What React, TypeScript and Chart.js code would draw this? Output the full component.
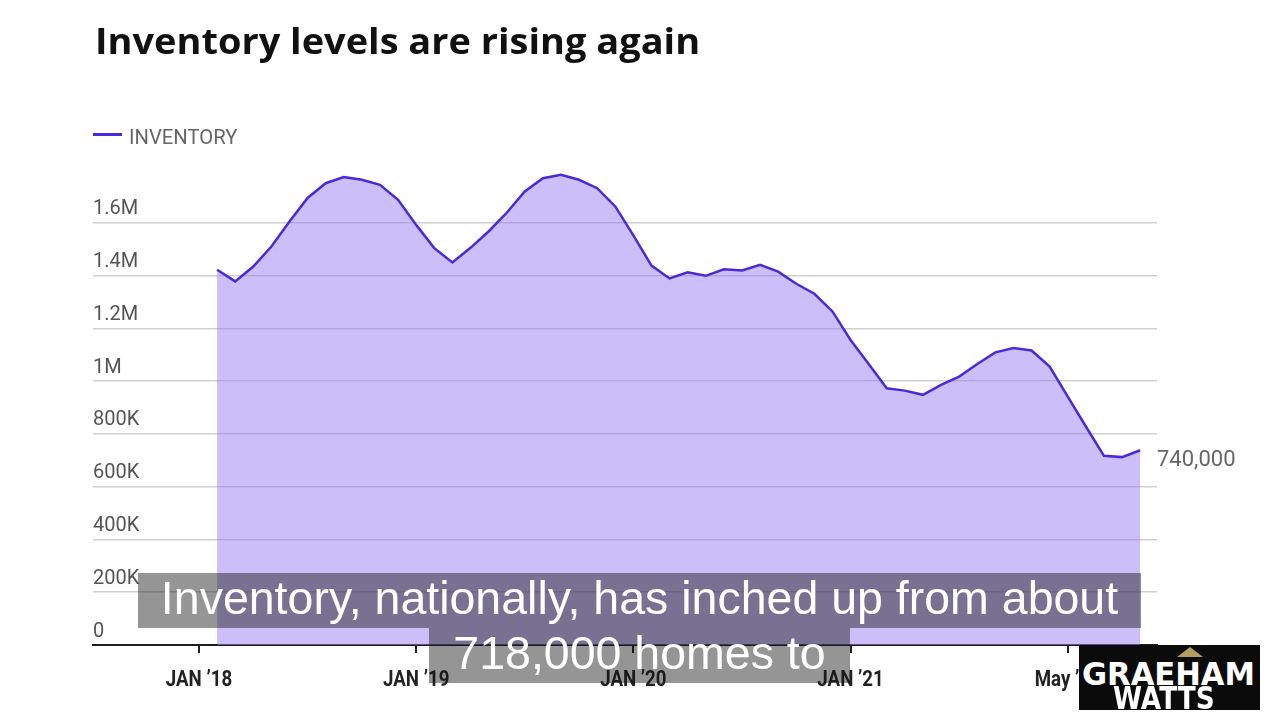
import React, { useEffect, useLayoutEffect, useRef } from "react";
import { Chart, registerables } from "chart.js";

Chart.register(...registerables);

// ---------- text ----------
const TITLE = "Inventory levels are rising again";
const SERIES_NAME = "INVENTORY";
const END_LABEL = "740,000";
const CAPTION_LINE_1 = "Inventory, nationally, has inched up from about";
const CAPTION_LINE_2 = "718,000 homes to";
const LOGO_LINE_1 = "GRAEHAM";
const LOGO_LINE_2 = "WATTS";

// ---------- data ----------
const months = [
  "2018-02", "2018-03", "2018-04", "2018-05", "2018-06", "2018-07", "2018-08", "2018-09", "2018-10", "2018-11", "2018-12",
  "2019-01", "2019-02", "2019-03", "2019-04", "2019-05", "2019-06", "2019-07", "2019-08", "2019-09", "2019-10", "2019-11", "2019-12",
  "2020-01", "2020-02", "2020-03", "2020-04", "2020-05", "2020-06", "2020-07", "2020-08", "2020-09", "2020-10", "2020-11", "2020-12",
  "2021-01", "2021-02", "2021-03", "2021-04", "2021-05", "2021-06", "2021-07", "2021-08", "2021-09", "2021-10", "2021-11", "2021-12",
  "2022-01", "2022-02", "2022-03", "2022-04", "2022-05",
];

const inventory = [
  1422000, 1378000, 1434000, 1510000, 1605000, 1694000, 1750000, 1773000, 1763000, 1744000, 1687000,
  1592000, 1504000, 1450000, 1505000, 1567000, 1638000, 1719000, 1769000, 1782000, 1763000, 1731000, 1662000,
  1552000, 1438000, 1389000, 1412000, 1399000, 1424000, 1419000, 1441000, 1415000, 1369000, 1331000, 1264000,
  1156000, 1065000, 973000, 964000, 948000, 986000, 1017000, 1065000, 1109000, 1125000, 1116000, 1055000,
  941000, 828000, 717000, 712000, 738000,
];

const xTickMonths = ["2018-01", "2019-01", "2020-01", "2021-01", "2022-01"];
const xTickLabels = ["JAN \u201918", "JAN \u201919", "JAN \u201920", "JAN \u201921", "May \u201922"];

const yTickValues = [0, 200000, 400000, 600000, 800000, 1000000, 1200000, 1400000, 1600000];
const yTickLabels = ["0", "200K", "400K", "600K", "800K", "1M", "1.2M", "1.4M", "1.6M"];

const monthIndex = (s: string) => {
  const [y, m] = s.split("-").map(Number);
  return (y - 2018) * 12 + (m - 1);
};

const LINE_COLOR = "#4c29d8";
const FILL_COLOR = "rgba(153,125,241,0.5)";

function FitText({ text, width, style }: { text: string; width: number; style: React.CSSProperties }) {
  const ref = useRef<HTMLSpanElement>(null);
  useLayoutEffect(() => {
    const fit = () => {
      const el = ref.current;
      if (!el) return;
      const w = el.offsetWidth;
      if (w > 0) el.style.transform = `scaleX(${width / w})`;
    };
    fit();
    const fonts = (document as any).fonts;
    if (fonts && fonts.ready) fonts.ready.then(fit);
  }, [text, width]);
  return (
    <span
      ref={ref}
      style={{
        position: "absolute",
        whiteSpace: "nowrap",
        display: "inline-block",
        transformOrigin: "left center",
        lineHeight: 1,
        ...style,
      }}
    >
      {text}
    </span>
  );
}

// value label at the end of the line
const endLabelPlugin = {
  id: "endLabel",
  afterDatasetsDraw(chart: any) {
    const meta = chart.getDatasetMeta(0);
    const pt = meta.data[meta.data.length - 1];
    if (!pt) return;
    const ctx = chart.ctx;
    ctx.save();
    ctx.font = "22px Roboto";
    ctx.fillStyle = "#666";
    ctx.textAlign = "left";
    ctx.textBaseline = "middle";
    ctx.fillText(END_LABEL, chart.chartArea.right, pt.y + 10);
    ctx.restore();
  },
};

// condensed bold x tick labels, placed at the x scale's tick pixels
const condensedXLabels = {
  id: "condensedXLabels",
  afterDraw(chart: any) {
    const xs = chart.scales.x;
    const ctx = chart.ctx;
    ctx.save();
    ctx.font = "bold 22px Roboto";
    ctx.fillStyle = "#222";
    ctx.textAlign = "center";
    ctx.textBaseline = "middle";
    xs.ticks.forEach((t: any, i: number) => {
      const x = xs.getPixelForValue(t.value);
      ctx.save();
      ctx.translate(x, xs.top + 35);
      ctx.scale(0.85, 1);
      ctx.fillText(xTickLabels[i] ?? "", 0, 0);
      ctx.restore();
    });
    ctx.restore();
  },
};

export default function App() {
  const canvasRef = useRef<HTMLCanvasElement>(null);

  useEffect(() => {
    if (!canvasRef.current) return;
    const chart = new Chart(canvasRef.current, {
      type: "line",
      data: {
        datasets: [
          {
            label: SERIES_NAME,
            data: months.map((m, i) => ({ x: monthIndex(m), y: inventory[i] })),
            borderColor: LINE_COLOR,
            backgroundColor: FILL_COLOR,
            borderWidth: 2.5,
            pointRadius: 0,
            tension: 0,
            fill: "origin",
          },
        ],
      },
      options: {
        animation: false,
        responsive: false,
        maintainAspectRatio: false,
        layout: { padding: { left: 93, right: 123, top: 170, bottom: 13 } },
        plugins: {
          legend: { display: false },
          title: { display: false },
          tooltip: { enabled: false },
        },
        scales: {
          x: {
            type: "linear",
            min: -5.856,
            max: 52.93,
            afterBuildTicks: (axis: any) => {
              axis.ticks = xTickMonths.map((m) => ({ value: monthIndex(m) }));
            },
            grid: {
              display: true,
              drawOnChartArea: false,
              drawTicks: true,
              tickLength: 8,
              color: "#222",
              tickColor: "#222",
              lineWidth: 2,
            },
            border: { display: true, color: "#1e1e1e", width: 2 },
            ticks: {
              autoSkip: false,
              maxRotation: 0,
              padding: 13.8,
              color: "rgba(0,0,0,0)",
              font: { family: "Roboto", size: 22, weight: "bold", lineHeight: 1.2 },
              callback: (value: any, index: number) => xTickLabels[index] ?? "",
            },
          },
          y: {
            type: "linear",
            min: 0,
            max: 1800000,
            afterBuildTicks: (axis: any) => {
              axis.ticks = yTickValues.map((v) => ({ value: v }));
            },
            grid: {
              drawTicks: false,
              lineWidth: 1.5,
              color: (ctx: any) => (ctx.tick && ctx.tick.value === 0 ? "rgba(0,0,0,0)" : "#cfcfcf"),
            },
            border: { display: false },
            ticks: {
              mirror: true,
              padding: 0,
              labelOffset: -13.5,
              color: "#555",
              font: { family: "Roboto", size: 20 },
              callback: (value: any) => {
                const i = yTickValues.indexOf(Number(value));
                return i >= 0 ? yTickLabels[i] : "";
              },
            },
          },
        },
      },
      plugins: [endLabelPlugin, condensedXLabels],
    } as any);
    return () => chart.destroy();
  }, []);

  return (
    <div
      style={{
        position: "absolute",
        left: 0,
        top: 0,
        width: 1280,
        height: 720,
        background: "#fff",
        overflow: "hidden",
      }}
    >
      <canvas ref={canvasRef} width={1280} height={720} style={{ position: "absolute", left: 0, top: 0, display: "block" }} />

      <FitText
        text={TITLE}
        width={605}
        style={{ left: 95, top: 16, font: '700 36px "Open Sans"', color: "#111" }}
      />

      <div style={{ position: "absolute", left: 93, top: 132.5, width: 29, height: 3, background: LINE_COLOR }} />
      <FitText
        text={SERIES_NAME}
        width={108}
        style={{ left: 129, top: 125, font: '400 21px Roboto', color: "#666" }}
      />

      {/* video caption */}
      <div style={{ position: "absolute", left: 138, top: 573, width: 1003, height: 55, background: "rgba(20,20,20,0.45)" }} />
      <div style={{ position: "absolute", left: 429, top: 628, width: 421, height: 55, background: "rgba(20,20,20,0.45)" }} />
      <div
        style={{
          position: "absolute",
          left: 138,
          top: 575,
          width: 1003,
          textAlign: "center",
          font: '46.5px "Liberation Sans", Arial, sans-serif',
          lineHeight: 1,
          color: "#fff",
          whiteSpace: "nowrap",
        }}
      >
        {CAPTION_LINE_1}
      </div>
      <div
        style={{
          position: "absolute",
          left: 429,
          top: 630,
          width: 421,
          textAlign: "center",
          font: '46.5px "Liberation Sans", Arial, sans-serif',
          lineHeight: 1,
          color: "#fff",
          whiteSpace: "nowrap",
        }}
      >
        {CAPTION_LINE_2}
      </div>

      {/* logo */}
      <div style={{ position: "absolute", left: 1079, top: 645, width: 181, height: 65, background: "#0b0b0b" }} />
      <div
        style={{
          position: "absolute",
          left: 1177,
          top: 647,
          width: 0,
          height: 0,
          borderLeft: "13px solid transparent",
          borderRight: "13px solid transparent",
          borderBottom: "10px solid #b59d5f",
        }}
      />
      <FitText
        text={LOGO_LINE_1}
        width={173}
        style={{ left: 1082, top: 655, font: '700 32px "DejaVu Sans"', color: "#fff" }}
      />
      <FitText
        text={LOGO_LINE_2}
        width={102}
        style={{ left: 1113, top: 679, font: '700 32px "DejaVu Sans"', color: "#fff" }}
      />
    </div>
  );
}
